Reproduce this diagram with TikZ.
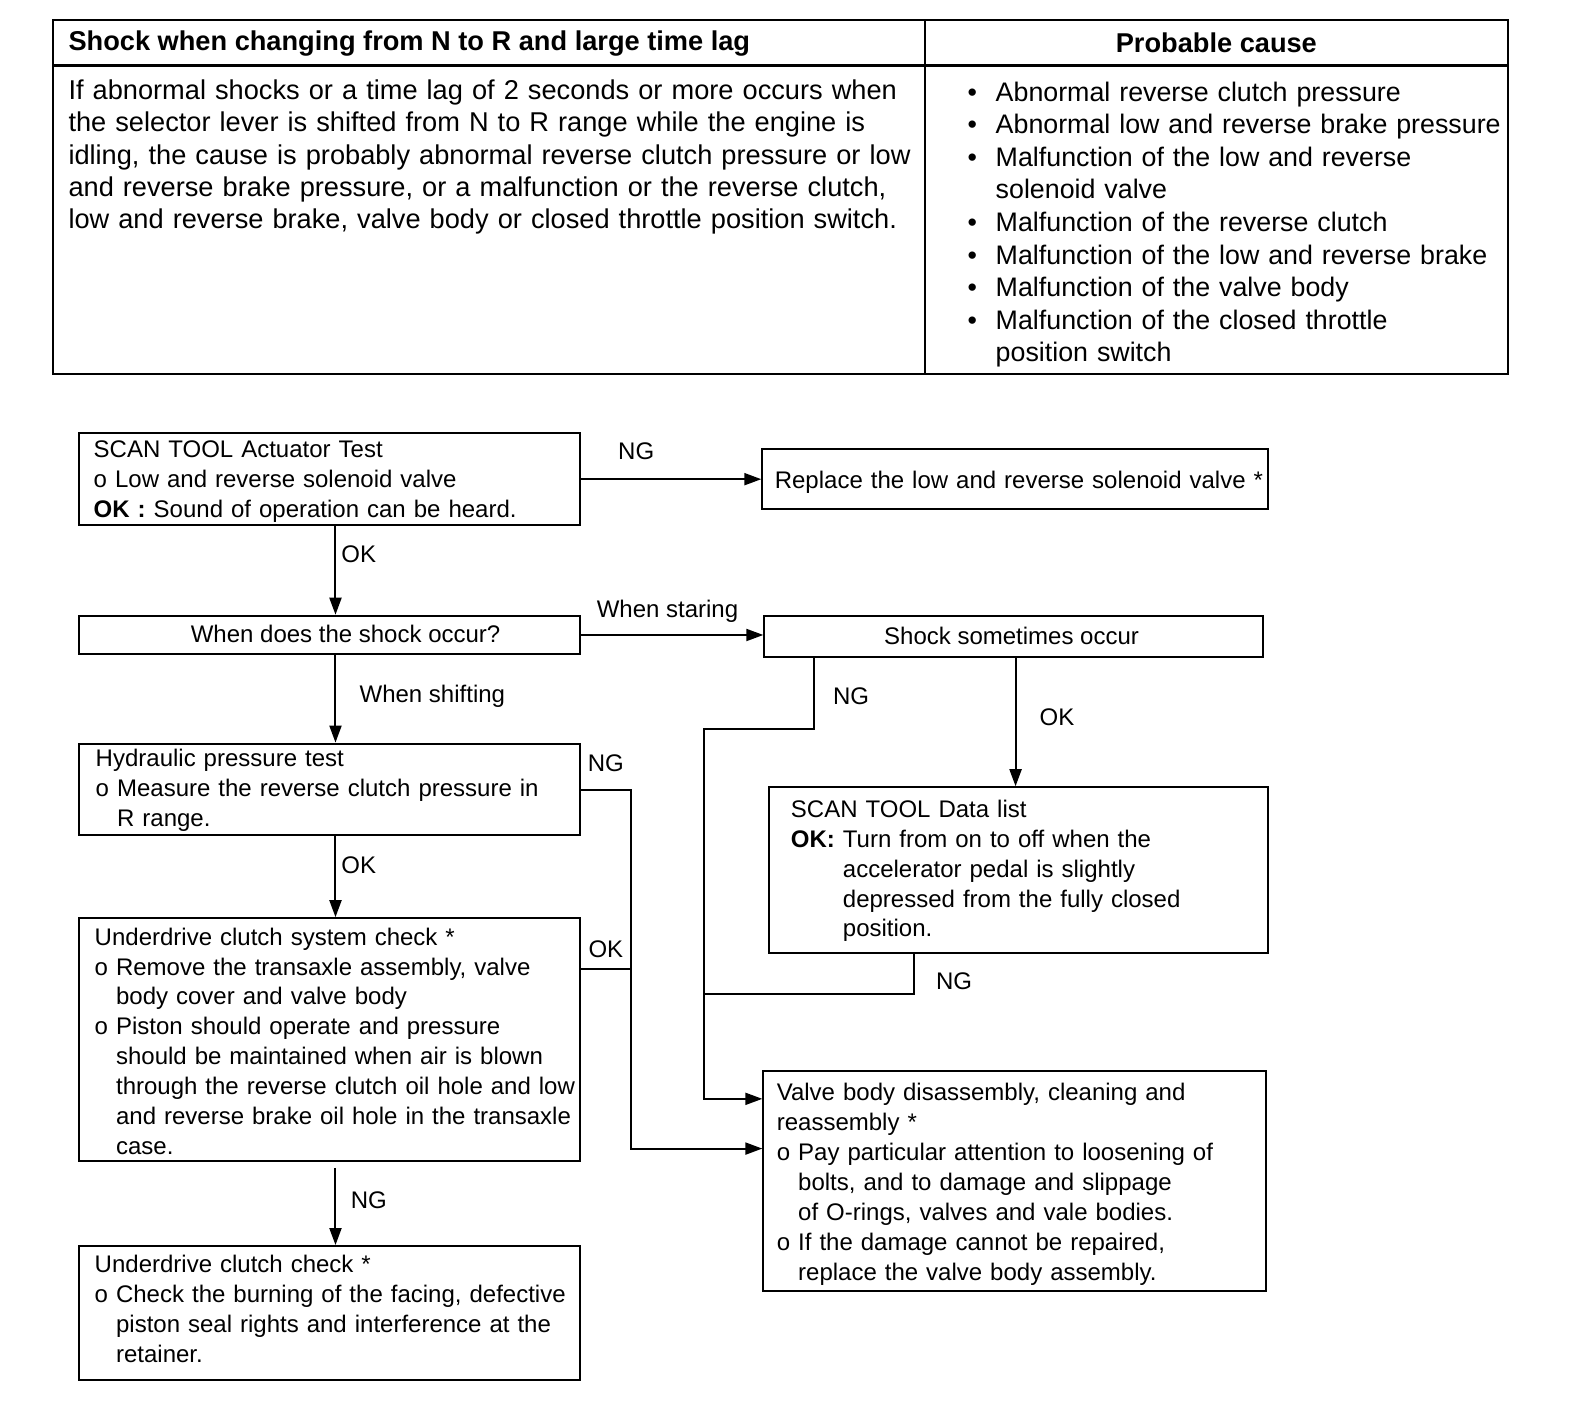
\documentclass[tikz,border=0pt]{standalone}
\usepackage{fontspec}
\setmainfont{Liberation Sans}
\usetikzlibrary{fit,arrows.meta,calc}
\newcommand{\fcfont}{\fontsize{12}{14.97}\selectfont}
\newcommand{\tbfont}{\fontsize{13.6}{16.24}\selectfont}
\newcommand{\lifont}{\fontsize{13.4}{16.3}\selectfont}
\newcommand{\ind}{\hphantom{o }}
\newcommand{\bul}{\makebox[14.1pt][l]{•}}
\begin{document}
\begin{tikzpicture}
\useasboundingbox (0pt,0pt) rectangle (792pt,-710pt);
\begin{scope}[x=0.5045pt, y=-0.5075pt, xshift=0.25pt, yshift=2.75pt,
  cell/.style={draw, line width=1.2pt, inner sep=0pt},
  fbox/.style={draw, line width=1pt, inner sep=0pt},
  txt/.style={anchor=base west, inner sep=0pt, align=left, text width=330pt, font=\fcfont},
  ctxt/.style={anchor=base, inner sep=0pt, font=\fcfont},
  lbl/.style={anchor=base, inner sep=0pt, font=\fcfont},
  conn/.style={line width=1pt},
  arr/.style={conn, -{Triangle[length=8.5pt,width=6pt]}}]

% ---------- table ----------
\node[cell, fit={(52,25)(916,70)}] (hl) {};
\node[cell, fit={(916,25)(1494,70)}] (hr) {};
\node[cell, fit={(52,70)(916,374)}] (cl) {};
\node[cell, fit={(916,70)(1494,374)}] (cr) {};
\node[anchor=base west, inner sep=0pt, font=\tbfont\bfseries] (hlt) at (67,55) {Shock when changing from N to R and large time lag};
\node[anchor=base, inner sep=0pt, font=\tbfont\bfseries] (hrt) at (1205,57) {Probable cause};
\node[txt, text width=440pt, font=\tbfont] (clt) at (67,103) {If abnormal shocks or a time lag of 2 seconds or more occurs when\\
the selector lever is shifted from N to R range while the engine is\\
idling, the cause is probably abnormal reverse clutch pressure or low\\
and reverse brake pressure, or a malfunction or the reverse clutch,\\
low and reverse brake, valve body or closed throttle position switch.};
\node[txt, text width=300pt, font=\lifont] (crt) at (958,105) {\bul Abnormal reverse clutch pressure\\
\bul Abnormal low and reverse brake pressure\\
\bul Malfunction of the low and reverse\\
\hspace*{14.1pt}solenoid valve\\
\bul Malfunction of the reverse clutch\\
\bul Malfunction of the low and reverse brake\\
\bul Malfunction of the valve body\\
\bul Malfunction of the closed throttle\\
\hspace*{14.1pt}position switch};

% ---------- flowchart boxes ----------
\node[fbox, fit={(78,432)(574,523)}] (b1) {};
\node[txt] (b1t) at (92,456.5) {SCAN TOOL Actuator Test\\
o Low and reverse solenoid valve\\
\textbf{OK :} Sound of operation can be heard.};

\node[fbox, fit={(755,448)(1256,507)}] (b2) {};
\node[txt] (b2t) at (767,486.5) {Replace the low and reverse solenoid valve *};

\node[fbox, fit={(78,612)(574,650)}] (b3) {};
\node[ctxt] (b3t) at (342,638.5) {When does the shock occur?};

\node[fbox, fit={(757,612)(1251,653)}] (b4) {};
\node[ctxt] (b4t) at (1002,640.5) {Shock sometimes occur};

\node[fbox, fit={(78,738)(574,828)}] (b5) {};
\node[txt] (b5t) at (94,760.5) {Hydraulic pressure test\\
o Measure the reverse clutch pressure in\\
\ind R range.};

\node[fbox, fit={(78,910)(574,1149)}] (b6) {};
\node[txt] (b6t) at (93,936.5) {Underdrive clutch system check *\\
o Remove the transaxle assembly, valve\\
\ind body cover and valve body\\
o Piston should operate and pressure\\
\ind should be maintained when air is blown\\
\ind through the reverse clutch oil hole and low\\
\ind and reverse brake oil hole in the transaxle\\
\ind case.};

\node[fbox, fit={(78,1233)(574,1365)}] (b7) {};
\node[txt] (b7t) at (93,1259.5) {Underdrive clutch check *\\
o Check the burning of the facing, defective\\
\ind piston seal rights and interference at the\\
\ind retainer.};

\node[fbox, fit={(762,781)(1256,944)}] (b8) {};
\node[txt] (b8t) at (783,810.5) {SCAN TOOL Data list\\
\textbf{OK:} Turn from on to off when the\\
\hphantom{\textbf{OK:} }accelerator pedal is slightly\\
\hphantom{\textbf{OK:} }depressed from the fully closed\\
\hphantom{\textbf{OK:} }position.};

\node[fbox, fit={(756,1061)(1254,1277)}] (b9) {};
\node[txt] (b9t) at (769,1089.5) {Valve body disassembly, cleaning and\\
reassembly *\\
o Pay particular attention to loosening of\\
\ind bolts, and to damage and slippage\\
\ind of O-rings, valves and vale bodies.\\
o If the damage cannot be repaired,\\
\ind replace the valve body assembly.};

% ---------- connectors ----------
\draw[arr] (b1) -- (b2);
\draw[arr] ($(b1.south)+(6,0)$) -- ($(b3.north)+(6,0)$);
\draw[arr] (b3.east) -- (b3.east -| b4.west);
\draw[arr] ($(b3.south)+(6,0)$) -- ($(b5.north)+(6,0)$);
\draw[arr] ($(b5.south)+(6,0)$) -- ($(b6.north)+(6,0)$);
\draw[arr] ($(b6.south)+(6,6)$) -- ($(b7.north)+(6,0)$);

\coordinate (r1) at (625,1137);
\draw[arr] ($(b5.north east)+(0,47)$) -| (r1) -- (r1 -| b9.west);
\draw[conn] ($(b6.north east)+(0,51)$) -- ++(51,0);

\coordinate (l1) at (697,724);
\coordinate (l2) at (697,1088);
\coordinate (l3) at (697,985);
\draw[arr] ($(b4.south west)+(50,0)$) |- (l1) -- (l2) -- (l2 -| b9.west);
\coordinate (okx) at ($(b4.south)+(2,0)$);
\draw[arr] (okx) -- (okx |- b8.north);
\draw[conn] ($(b8.south west)+(144,0)$) |- (l3);

% ---------- labels ----------
\node[lbl] (n1) at (630,458.5) {NG};
\node[lbl] (o1) at (355,559.5) {OK};
\node[lbl] (ws) at (661,614) {When staring};
\node[lbl] (wsh) at (428,698) {When shifting};
\node[lbl] (n2) at (600,765.5) {NG};
\node[lbl] (o2) at (355,865.5) {OK};
\node[lbl] (o3) at (600,948.5) {OK};
\node[lbl] (n3) at (365,1196.5) {NG};
\node[lbl] (n4) at (843,699.5) {NG};
\node[lbl] (o4) at (1047,720.5) {OK};
\node[lbl] (n5) at (945,980.5) {NG};
\end{scope}
\end{tikzpicture}
\end{document}
